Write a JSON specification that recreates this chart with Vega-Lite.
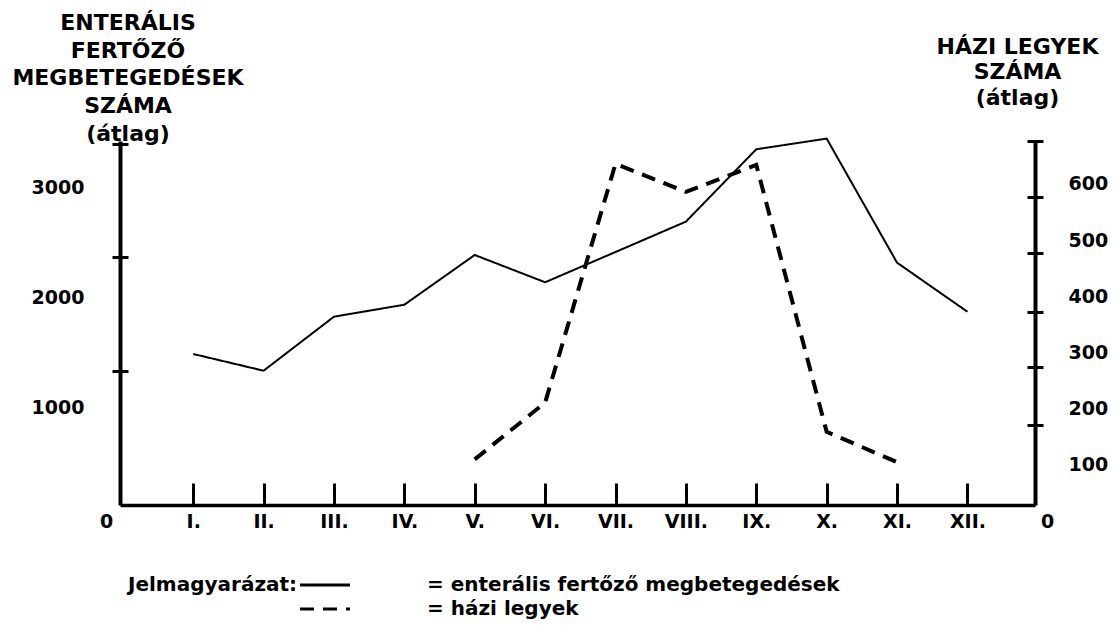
{
  "$schema": "https://vega.github.io/schema/vega-lite/v6.json",
  "width": 915,
  "height": 364,
  "autosize": {"type": "none"},
  "padding": {"left": 120, "top": 141, "right": 79, "bottom": 120},
  "background": "white",
  "data": {
    "values": [
      {"month": 1, "series": "enterális fertőző megbetegedések", "value": 1482},
      {"month": 2, "series": "enterális fertőző megbetegedések", "value": 1330},
      {"month": 3, "series": "enterális fertőző megbetegedések", "value": 1821},
      {"month": 4, "series": "enterális fertőző megbetegedések", "value": 1930},
      {"month": 5, "series": "enterális fertőző megbetegedések", "value": 2382},
      {"month": 6, "series": "enterális fertőző megbetegedések", "value": 2134},
      {"month": 7, "series": "enterális fertőző megbetegedések", "value": 2409},
      {"month": 8, "series": "enterális fertőző megbetegedések", "value": 2685},
      {"month": 9, "series": "enterális fertőző megbetegedések", "value": 3343},
      {"month": 10, "series": "enterális fertőző megbetegedések", "value": 3440},
      {"month": 11, "series": "enterális fertőző megbetegedések", "value": 2312},
      {"month": 12, "series": "enterális fertőző megbetegedések", "value": 1866},
      {"month": 5, "series": "házi legyek", "value": 110},
      {"month": 6, "series": "házi legyek", "value": 211},
      {"month": 7, "series": "házi legyek", "value": 636},
      {"month": 8, "series": "házi legyek", "value": 586},
      {"month": 9, "series": "házi legyek", "value": 634},
      {"month": 10, "series": "házi legyek", "value": 159},
      {"month": 11, "series": "házi legyek", "value": 105}
    ]
  },
  "encoding": {
    "x": {
      "field": "month",
      "type": "quantitative",
      "scale": {"domain": [-0.04, 12.96], "nice": false, "zero": false},
      "axis": {
        "orient": "bottom",
        "values": [-0.04, 1, 2, 3, 4, 5, 6, 7, 8, 9, 10, 11, 12, 12.96],
        "labelExpr": "datum.value < 0.5 || datum.value > 12.5 ? '0' : ['I.','II.','III.','IV.','V.','VI.','VII.','VIII.','IX.','X.','XI.','XII.'][round(datum.value) - 1]",
        "title": null,
        "grid": false,
        "domain": true,
        "domainColor": "black",
        "domainWidth": 3.5,
        "ticks": true,
        "tickSize": -22,
        "tickWidth": 3,
        "tickColor": "black",
        "tickOpacity": {"condition": {"test": "datum.value < 0.5 || datum.value > 12.5", "value": 0}, "value": 1},
        "labelOffset": {"condition": [{"test": "datum.value < 0.5", "value": -14}, {"test": "datum.value > 12.5", "value": 12}], "value": 0},
        "labelPadding": 29,
        "labelBaseline": "top",
        "labelFlush": false,
        "labelOverlap": false,
        "labelBound": false,
        "labelFont": "DejaVu Sans",
        "labelFontWeight": "bold",
        "labelFontSize": 19,
        "labelColor": "black"
      }
    }
  },
  "layer": [
    {
      "transform": [{"filter": "datum.series == 'enterális fertőző megbetegedések'"}],
      "mark": {"type": "line", "color": "black", "strokeWidth": 2, "strokeJoin": "miter"},
      "encoding": {
        "y": {
          "field": "value",
          "type": "quantitative",
          "scale": {"domain": [109.1, 3418.2], "nice": false, "zero": false},
          "axis": {
            "orient": "left",
            "values": [1000, 2000, 3000],
            "format": "d",
            "ticks": false,
            "tickSize": 0,
            "grid": false,
            "domain": true,
            "domainColor": "black",
            "domainWidth": 4,
            "labelPadding": 36,
            "labelFont": "DejaVu Sans",
            "labelFontWeight": "bold",
            "labelFontSize": 19,
            "labelColor": "black",
            "title": ["ENTERÁLIS", "FERTŐZŐ", "MEGBETEGEDÉSEK", "SZÁMA", "(átlag)"],
            "titleAngle": 0,
            "titleX": 7.5,
            "titleY": -111.7,
            "titleAlign": "center",
            "titleBaseline": "alphabetic",
            "titleLineHeight": 27.8,
            "titleFont": "DejaVu Sans",
            "titleFontWeight": "bold",
            "titleFontSize": 22,
            "titleColor": "black"
          }
        },
        "strokeDash": {
          "field": "series",
          "type": "nominal",
          "scale": {"domain": ["enterális fertőző megbetegedések", "házi legyek"], "range": [[1, 0], [14, 9]]},
          "legend": {
            "orient": "none",
            "legendX": 8,
            "legendY": 434,
            "title": "Jelmagyarázat:",
            "titleOrient": "left",
            "titleAnchor": "start",
            "titleBaseline": "top",
            "titlePadding": 17,
            "titleFont": "DejaVu Sans",
            "titleFontWeight": "bold",
            "titleFontSize": 20,
            "titleColor": "black",
            "titleLimit": 0,
            "labelExpr": "'= ' + datum.label",
            "labelFont": "DejaVu Sans",
            "labelFontWeight": "bold",
            "labelFontSize": 20,
            "labelColor": "black",
            "labelLimit": 0,
            "labelOffset": 92,
            "symbolType": "M-5,0H5",
            "symbolSize": 100,
            "symbolStrokeWidth": 3,
            "symbolStrokeColor": "black",
            "rowPadding": 4
          }
        }
      }
    },
    {
      "transform": [{"filter": "datum.series == 'házi legyek'"}],
      "mark": {"type": "line", "color": "black", "strokeWidth": 4, "strokeCap": "butt", "strokeJoin": "miter"},
      "encoding": {
        "y": {
          "field": "value",
          "type": "quantitative",
          "scale": {"domain": [28.8, 676.5], "nice": false, "zero": false},
          "axis": {
            "orient": "right",
            "values": [100, 200, 300, 400, 500, 600],
            "ticks": false,
            "tickSize": 0,
            "grid": false,
            "domain": true,
            "domainColor": "black",
            "domainWidth": 4,
            "labelPadding": 33,
            "labelFont": "DejaVu Sans",
            "labelFontWeight": "bold",
            "labelFontSize": 19,
            "labelColor": "black",
            "title": ["HÁZI LEGYEK", "SZÁMA", "(átlag)"],
            "titleAngle": 0,
            "titleX": -18,
            "titleY": -87.7,
            "titleAlign": "center",
            "titleBaseline": "alphabetic",
            "titleLineHeight": 25.5,
            "titleFont": "DejaVu Sans",
            "titleFontWeight": "bold",
            "titleFontSize": 22,
            "titleColor": "black"
          }
        },
        "strokeDash": {"field": "series", "type": "nominal"}
      }
    },
    {
      "transform": [{"filter": "datum.series == 'enterális fertőző megbetegedések'"}],
      "mark": {"type": "line", "opacity": 0},
      "encoding": {
        "y": {
          "field": "value",
          "type": "quantitative",
          "scale": {"domain": [109.1, 3418.2], "nice": false, "zero": false},
          "axis": {
            "orient": "left",
            "offset": -8,
            "values": [1327, 2364, 3390],
            "domain": false,
            "labels": false,
            "grid": false,
            "ticks": true,
            "tickSize": 16,
            "tickWidth": 3,
            "tickColor": "black",
            "title": null
          }
        }
      }
    },
    {
      "transform": [{"filter": "datum.series == 'házi legyek'"}],
      "mark": {"type": "line", "opacity": 0},
      "encoding": {
        "y": {
          "field": "value",
          "type": "quantitative",
          "scale": {"domain": [28.8, 676.5], "nice": false, "zero": false},
          "axis": {
            "orient": "right",
            "offset": -8,
            "values": [171, 274, 372, 477, 577, 676],
            "domain": false,
            "labels": false,
            "grid": false,
            "ticks": true,
            "tickSize": 16,
            "tickWidth": 3,
            "tickColor": "black",
            "title": null
          }
        }
      }
    }
  ],
  "resolve": {"scale": {"y": "independent"}},
  "config": {
    "view": {"stroke": null},
    "font": "DejaVu Sans"
  }
}
